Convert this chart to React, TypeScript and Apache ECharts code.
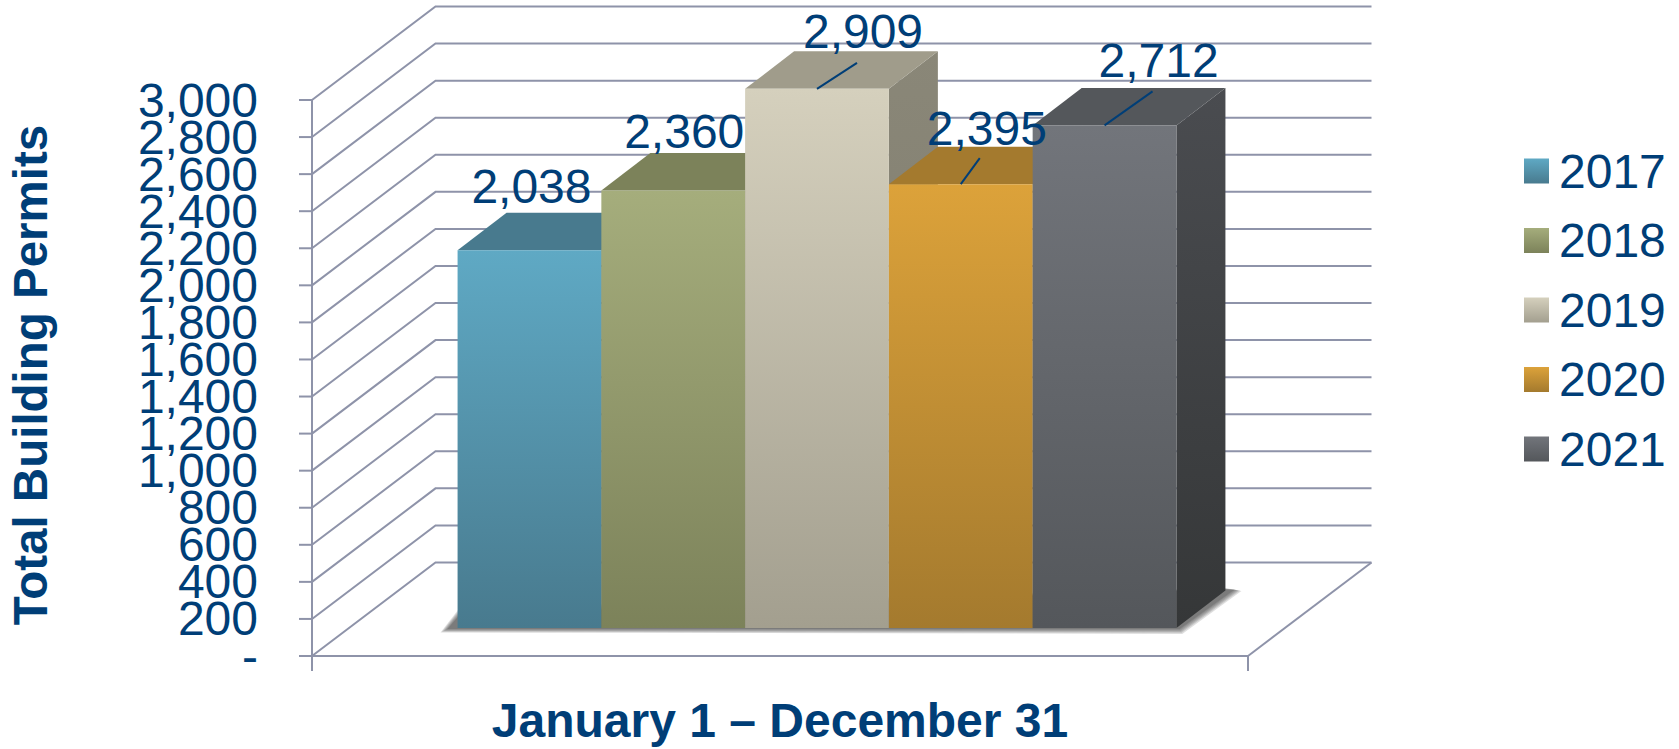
import React, { useEffect, useRef } from "react";
import * as echarts from "echarts";

const period = ["January 1 – December 31"];
const years = ["2017", "2018", "2019", "2020", "2021"];
const permits = [2038, 2360, 2909, 2395, 2712];
const yTicks = [0, 200, 400, 600, 800, 1000, 1200, 1400, 1600, 1800, 2000, 2200, 2400, 2600, 2800, 3000];

const INK = "#003e77";
const RULE = "#8e93a9";
const RULE_WIDTH = 2;
const FONT = "'Liberation Sans', Arial, sans-serif";
const FONT_SIZE = 48;

// wall depth of the chart's box, and where the bars stand on its floor
const WALL_DX = 123.5;
const WALL_DY = 93.5;
const TICK = 13;
const LABEL_GAP = 54;
const BAR_SHIFT_X = 37;
const BAR_SHIFT_Y = -28;
const BAR_RATIO = 0.1536;
const BAR_DX = 49;
const BAR_DY = 37.5;
const SHADOW_SPREAD = [7, 5.5, 4, 2.5, 1, 0];

const faces = [
  { hi: "#5fa9c4", lo: "#487a8e", top: "#487a8e", sideHi: "#42707f", sideLo: "#3a6272" },
  { hi: "#a5ad7c", lo: "#7c825a", top: "#7c825a", sideHi: "#6f7550", sideLo: "#626747" },
  { hi: "#d5d0bd", lo: "#a39f8f", top: "#a09c8b", sideHi: "#8a8778", sideLo: "#7c796b" },
  { hi: "#dca23a", lo: "#a47a2e", top: "#a47a2e", sideHi: "#8f6c29", sideLo: "#7f5f24" },
  { hi: "#72757b", lo: "#54575b", top: "#54575b", sideHi: "#4a4c50", sideLo: "#353738" },
];

// label centre and leader end, relative to the middle of the bar's front top edge
const labelPlacement = [
  { dx: 2, dy: -64, leader: null },
  { dx: 11, dy: -59, leader: null },
  { dx: 46, dy: -57, leader: [40, -26] },
  { dx: 26, dy: -56, leader: [19, -26] },
  { dx: 54, dy: -65, leader: [48, -34] },
];

const vertical = (a: string, b: string) => ({
  type: "linear",
  x: 0,
  y: 0,
  x2: 0,
  y2: 1,
  colorStops: [
    { offset: 0, color: a },
    { offset: 1, color: b },
  ],
});

const barLeft = (api: any, i: number) => {
  const band = api.size([1, 0])[0];
  const cx = api.coord([0, 0])[0];
  const w = band * BAR_RATIO;
  return { x: cx + BAR_SHIFT_X - (w * years.length) / 2 + i * w, w };
};

const wallItem = (_: any, api: any) => {
  const v = api.value(1);
  const [cx, y] = api.coord([0, v]);
  const band = api.size([1, 0])[0];
  const left = cx - band / 2;
  const right = cx + band / 2;
  const line = { stroke: RULE, lineWidth: RULE_WIDTH, fill: "none" };
  const children: any[] = [
    {
      type: "polyline",
      shape: {
        points: [
          [left, y],
          [left + WALL_DX, y - WALL_DY],
          [right + WALL_DX, y - WALL_DY],
        ],
      },
      style: line,
    },
    {
      type: "line",
      shape: { x1: left - TICK, y1: y, x2: left, y2: y },
      style: line,
    },
    {
      type: "text",
      style: {
        x: left - LABEL_GAP,
        y,
        text: v === 0 ? "-" : v.toLocaleString("en-US"),
        fill: INK,
        fontSize: FONT_SIZE,
        fontFamily: FONT,
        align: "right",
        verticalAlign: "middle",
      },
    },
  ];
  if (v === 0) {
    children.push({
      type: "line",
      shape: { x1: right, y1: y, x2: right + WALL_DX, y2: y - WALL_DY },
      style: line,
    });
  }
  return { type: "group", children };
};

const shadowItem = (_: any, api: any) => {
  const first = barLeft(api, 0);
  const last = barLeft(api, years.length - 1);
  const base = api.coord([0, 0])[1] + BAR_SHIFT_Y;
  const r = last.x + last.w;
  return {
    type: "group",
    children: SHADOW_SPREAD.map((g) => ({
      type: "polygon",
      shape: {
        points: [
          [first.x + 2, base - 13 - g],
          [first.x - 10 - g, base + 1 + g * 0.5],
          [r + 3 + g * 0.4, base + 1 + g * 0.7],
          [r + BAR_DX + 9 + g, base - BAR_DY - 1 + g * 0.2],
          [r + BAR_DX, base - BAR_DY - 1 - g * 0.2],
        ],
      },
      style: { fill: "rgba(60,60,60,0.17)" },
    })),
  };
};

const barItem = (i: number) => (_: any, api: any) => {
  const { x, w } = barLeft(api, i);
  const base = api.coord([0, 0])[1] + BAR_SHIFT_Y;
  const top = api.coord([0, api.value(1)])[1] + BAR_SHIFT_Y;
  const f = faces[i];
  return {
    type: "group",
    children: [
      {
        type: "polygon",
        shape: {
          points: [
            [x + w, top],
            [x + w + BAR_DX, top - BAR_DY],
            [x + w + BAR_DX, base - BAR_DY],
            [x + w, base],
          ],
        },
        style: { fill: vertical(f.sideHi, f.sideLo) },
      },
      {
        type: "polygon",
        shape: {
          points: [
            [x, top],
            [x + BAR_DX, top - BAR_DY],
            [x + w + BAR_DX, top - BAR_DY],
            [x + w, top],
          ],
        },
        style: { fill: f.top },
      },
      {
        type: "rect",
        shape: { x, y: top, width: w, height: base - top },
        style: { fill: vertical(f.hi, f.lo) },
      },
    ],
  };
};

const labelItem = (params: any, api: any) => {
  const i = params.dataIndex;
  const { x, w } = barLeft(api, i);
  const v = api.value(1);
  const top = api.coord([0, v])[1] + BAR_SHIFT_Y;
  const mid = x + w / 2;
  const p = labelPlacement[i];
  const children: any[] = [];
  if (p.leader) {
    children.push({
      type: "line",
      shape: { x1: mid, y1: top, x2: mid + p.leader[0], y2: top + p.leader[1] },
      style: { stroke: INK, lineWidth: 2 },
    });
  }
  children.push({
    type: "text",
    style: {
      x: mid + p.dx,
      y: top + p.dy,
      text: v.toLocaleString("en-US"),
      fill: INK,
      fontSize: FONT_SIZE,
      fontFamily: FONT,
      align: "center",
      verticalAlign: "middle",
    },
  });
  return { type: "group", children };
};

export default function App() {
  const ref = useRef<HTMLDivElement>(null);
  useEffect(() => {
    const chart = echarts.init(ref.current!, undefined, { renderer: "svg" });
    const axisLine = { show: true, lineStyle: { color: RULE, width: RULE_WIDTH } };
    chart.setOption({
      animation: false,
      backgroundColor: "#ffffff",
      textStyle: { fontFamily: FONT },
      grid: { left: 312, top: 100, width: 936, height: 556, outerBoundsMode: "none" },
      legend: {
        orient: "vertical",
        left: 1524,
        top: 147,
        padding: 0,
        itemWidth: 25,
        itemHeight: 25,
        itemGap: 21.5,
        selectedMode: false,
        textStyle: { color: INK, fontSize: FONT_SIZE, fontFamily: FONT, padding: [0, 0, 0, 5] },
        data: years.map((y, i) => ({
          name: y,
          icon: "rect",
          itemStyle: { color: vertical(faces[i].hi, faces[i].lo), borderWidth: 0 },
        })),
      },
      xAxis: {
        type: "category",
        data: period,
        boundaryGap: true,
        axisLine,
        axisTick: { show: true, length: 15, lineStyle: { color: RULE, width: RULE_WIDTH } },
        axisLabel: { color: INK, fontSize: FONT_SIZE, fontWeight: "bold", fontFamily: FONT, margin: 40 },
      },
      yAxis: {
        type: "value",
        min: 0,
        max: 3000,
        interval: 200,
        name: "Total Building Permits",
        nameLocation: "middle",
        nameRotate: 90,
        nameGap: 258,
        nameMoveOverlap: false,
        nameTextStyle: { color: INK, fontSize: 47.5, fontWeight: "bold", fontFamily: FONT, padding: [0, 0, 0, 6] },
        axisLine,
        axisTick: { show: false },
        splitLine: { show: false },
        axisLabel: { show: false },
      },
      series: [
        {
          type: "custom",
          name: "walls",
          z: 1,
          silent: true,
          encode: { x: 0, y: 1 },
          data: yTicks.map((v) => [0, v]),
          renderItem: wallItem,
        },
        {
          type: "custom",
          name: "floor shadow",
          z: 2,
          silent: true,
          encode: { x: 0, y: 1 },
          data: [[0, 0]],
          renderItem: shadowItem,
        },
        ...years.map((y, i) => ({
          type: "custom",
          name: y,
          z: 3,
          silent: true,
          encode: { x: 0, y: 1 },
          data: [[0, permits[i]]],
          renderItem: barItem(i),
        })),
        {
          type: "custom",
          name: "value labels",
          z: 5,
          silent: true,
          encode: { x: 0, y: 1 },
          data: permits.map((v) => [0, v]),
          renderItem: labelItem,
        },
      ],
    });
    return () => chart.dispose();
  }, []);
  return <div ref={ref} style={{ position: "absolute", left: 0, top: 0, width: 1679, height: 749 }} />;
}
